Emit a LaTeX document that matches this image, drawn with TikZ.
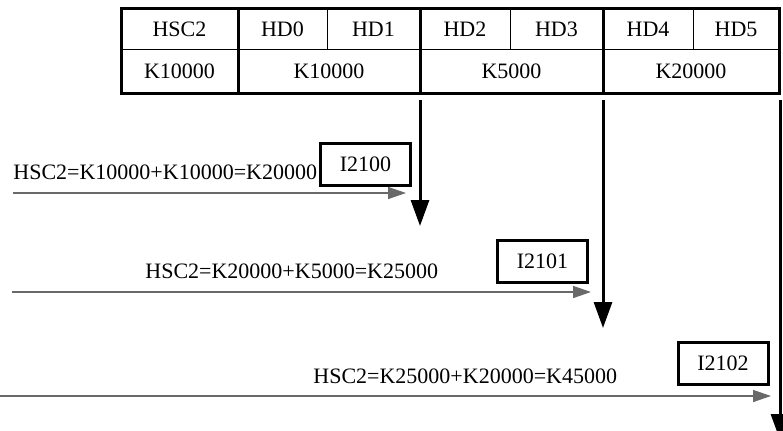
\documentclass[tikz,border=0pt]{standalone}
\usepackage{fontspec}
\setmainfont{Liberation Serif}
\usepackage{tikz}
\usetikzlibrary{arrows.meta, positioning, calc}
\definecolor{mygray}{RGB}{105,105,105}
\tikzset{
  cell/.style={font=\fontsize{11}{13}\selectfont, inner sep=0pt},
  sumlabel/.style={font=\fontsize{11}{13}\selectfont, inner sep=0pt, anchor=west},
  relaybox/.style={rectangle, draw, line width=1.5pt, minimum width=45pt,
    minimum height=21pt, inner sep=0pt, font=\fontsize{11}{13}\selectfont},
  thickline/.style={line width=1.5pt},
  thinline/.style={line width=0.5pt},
  feedarrow/.style={-{Triangle[length=13pt,width=9pt]}, line width=1.5pt},
  sumarrow/.style={-{Triangle[length=9pt,width=6pt]}, line width=0.7pt, color=mygray}
}

\begin{document}
\begin{tikzpicture}[x=0.5pt, y=-0.5pt]
  \clip (0,0) rectangle (783,430);
  \fill[white] (0,0) rectangle (783,430);

  % Register table
  \draw[thickline] (121,8) rectangle (779,93);
  \draw[thinline] (121,49) -- (779,49);
  \foreach \x in {238, 420, 603}
    \draw[thickline] (\x,8) -- (\x,93);
  \foreach \x in {327, 510, 693}
    \draw[thinline] (\x,8) -- (\x,49);

  % Top row
  \foreach \x/\t/\n in {179.5/HSC2/hsc, 282.5/HD0/hd0, 373.5/HD1/hd1,
                        465/HD2/hd2, 556.5/HD3/hd3, 648/HD4/hd4, 736/HD5/hd5}
    \node[cell] (\n) at (\x,29) {\t};
  % Bottom row
  \foreach \x/\t/\n in {179.5/K10000/khsc, 329/K10000/kset1,
                        511.5/K5000/kset2, 691/K20000/kset3}
    \node[cell] (\n) at (\x,71) {\t};

  % Output relays
  \node[relaybox] (r0) at (365.5,164) {I2100};
  \node[relaybox] (r1) at (542.5,261) {I2101};
  \node[relaybox] (r2) at (723,363.5) {I2102};

  % Sum labels
  \node[sumlabel] (s0) at (13,172) {HSC2=K10000+K10000=K20000};
  \node[sumlabel] (s1) at (145,271) {HSC2=K20000+K5000=K25000};
  \node[sumlabel] (s2) at (313,376) {HSC2=K25000+K20000=K45000};

  % Count arrows
  \coordinate (c0a) at (13,193);  \coordinate (c0b) at (406,193);
  \coordinate (c1a) at (12,292);  \coordinate (c1b) at (591,292);
  \coordinate (c2a) at (0,396);   \coordinate (c2b) at (771,396);
  \draw[sumarrow] (c0a) -- (c0b);
  \draw[sumarrow] (c1a) -- (c1b);
  \draw[sumarrow] (c2a) -- (c2b);

  % Set point arrows
  \coordinate (t0) at (420,100);  \coordinate (b0) at (420,226);
  \coordinate (t1) at (603,100);  \coordinate (b1) at (603,328);
  \coordinate (t2) at (780,100);  \coordinate (b2) at (780,440);
  \draw[feedarrow] (t0) -- (b0);
  \draw[feedarrow] (t1) -- (b1);
  \draw[feedarrow] (t2) -- (b2);
\end{tikzpicture}
\end{document}
